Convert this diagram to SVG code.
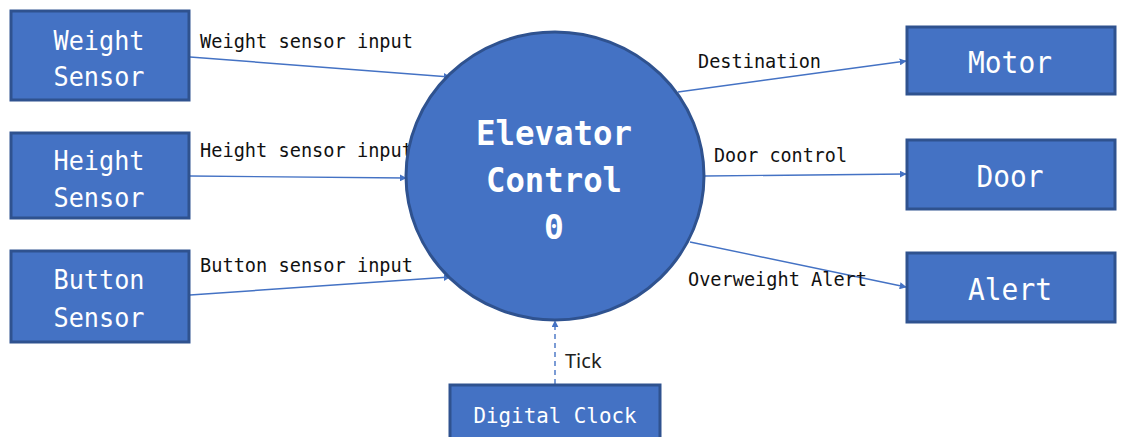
<svg xmlns="http://www.w3.org/2000/svg" width="1124" height="437" viewBox="0 0 1124 437">
<style>
.box{fill:#4472C4;stroke:#2F528F;stroke-width:3}
.nt{fill:#fff;font-family:"DejaVu Sans Mono","Liberation Mono",monospace;font-size:27px;text-anchor:middle}
.ct{fill:#fff;font-family:"DejaVu Sans Mono","Liberation Mono",monospace;font-size:33px;font-weight:bold;text-anchor:middle}
.el{fill:#111;font-family:"DejaVu Sans Mono","Liberation Mono",monospace;font-size:19.5px}
.tick{fill:#222;font-family:"Noto Sans","Liberation Sans",sans-serif;font-size:20px}
.ln{stroke:#4472C4;stroke-width:1.4;fill:none;marker-end:url(#ah)}
</style>
<defs>
<marker id="ah" viewBox="0 0 10 10" refX="9" refY="5" markerWidth="7" markerHeight="7" markerUnits="userSpaceOnUse" orient="auto">
<path d="M0,0 L10,5 L0,10 z" fill="#4472C4"/>
</marker>
</defs>
<rect width="1124" height="437" fill="#fff"/>
<g id="connectors">
<line class="ln" x1="190" y1="57" x2="450" y2="77"/>
<line class="ln" x1="190" y1="176" x2="406" y2="178"/>
<line class="ln" x1="190" y1="295" x2="450" y2="277"/>
<line class="ln" x1="678" y1="92" x2="906" y2="61"/>
<line class="ln" x1="705" y1="176" x2="906" y2="174"/>
<line class="ln" x1="690" y1="242" x2="906" y2="287"/>
<line class="ln" x1="555" y1="384" x2="555" y2="321" stroke-dasharray="5,4"/>
<text class="el" x="200" y="48" textLength="213" lengthAdjust="spacingAndGlyphs">Weight sensor input</text>
<text class="el" x="200" y="157" textLength="213" lengthAdjust="spacingAndGlyphs">Height sensor input</text>
<text class="el" x="200" y="272" textLength="213" lengthAdjust="spacingAndGlyphs">Button sensor input</text>
<text class="el" x="698" y="68" textLength="123" lengthAdjust="spacingAndGlyphs">Destination</text>
<text class="el" x="714" y="162" textLength="133" lengthAdjust="spacingAndGlyphs">Door control</text>
<text class="el" x="688" y="286" textLength="179" lengthAdjust="spacingAndGlyphs">Overweight Alert</text>
<text class="tick" x="565" y="368">Tick</text>
</g>
<g id="weight-sensor">
<rect class="box" x="11" y="11" width="178" height="89"/>
<text class="nt" x="99" y="50" textLength="91" lengthAdjust="spacingAndGlyphs">Weight</text>
<text class="nt" x="99" y="86" textLength="91" lengthAdjust="spacingAndGlyphs">Sensor</text>
</g>
<g id="height-sensor">
<rect class="box" x="11" y="133" width="178" height="85"/>
<text class="nt" x="99" y="170" textLength="91" lengthAdjust="spacingAndGlyphs">Height</text>
<text class="nt" x="99" y="207" textLength="91" lengthAdjust="spacingAndGlyphs">Sensor</text>
</g>
<g id="button-sensor">
<rect class="box" x="11" y="251" width="178" height="91"/>
<text class="nt" x="99" y="289" textLength="91" lengthAdjust="spacingAndGlyphs">Button</text>
<text class="nt" x="99" y="327" textLength="91" lengthAdjust="spacingAndGlyphs">Sensor</text>
</g>
<g id="elevator-control">
<ellipse cx="555" cy="176" rx="149" ry="144" fill="#4472C4" stroke="#2F528F" stroke-width="3"/>
<text class="ct" x="554" y="145" textLength="156" lengthAdjust="spacingAndGlyphs">Elevator</text>
<text class="ct" x="554" y="192" textLength="136" lengthAdjust="spacingAndGlyphs">Control</text>
<text class="ct" x="554" y="239">0</text>
</g>
<g id="motor">
<rect class="box" x="907" y="27" width="208" height="67"/>
<text class="nt" x="1010" y="73" style="font-size:30px" textLength="84" lengthAdjust="spacingAndGlyphs">Motor</text>
</g>
<g id="door">
<rect class="box" x="907" y="140" width="208" height="69"/>
<text class="nt" x="1010" y="187" style="font-size:30px" textLength="67" lengthAdjust="spacingAndGlyphs">Door</text>
</g>
<g id="alert">
<rect class="box" x="907" y="253" width="208" height="69"/>
<text class="nt" x="1010" y="300" style="font-size:30px" textLength="84" lengthAdjust="spacingAndGlyphs">Alert</text>
</g>
<g id="digital-clock">
<rect class="box" x="450" y="385" width="210" height="60"/>
<text class="nt" x="555" y="423" style="font-size:22px" textLength="163" lengthAdjust="spacingAndGlyphs">Digital Clock</text>
</g>
</svg>
